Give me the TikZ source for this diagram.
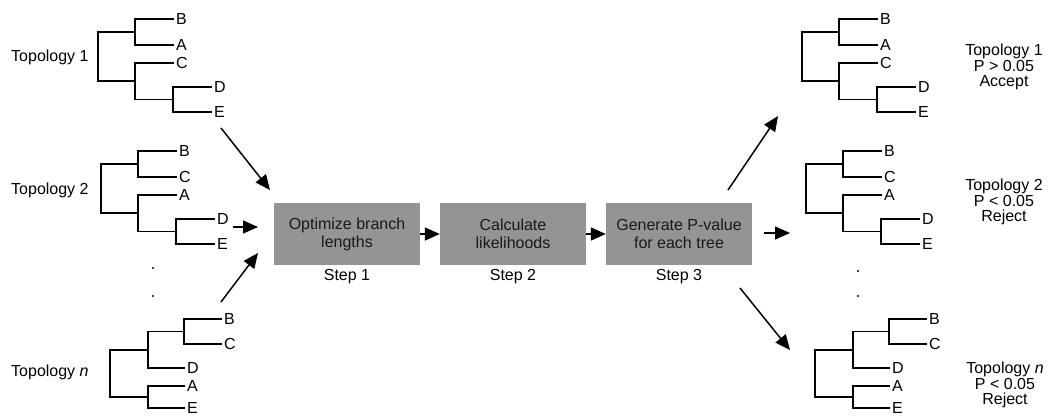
\documentclass[tikz,border=0pt]{standalone}
\usepackage{fontspec}
\setmainfont{Liberation Sans}
\usetikzlibrary{arrows.meta}
\newcommand\labfont{\fontsize{16}{18}\selectfont}
\newcommand\tightfont{\fontsize{16}{15.5}\selectfont}
% five-leaf tree ((1,2),(3,(4,5))); #1 name prefix, #2-#6 leaf labels from top
\newcommand\fivetree[6]{%
  \draw[branch] (37,32) -| (0,81.25) -- (37,81.25);
  \draw[branch] (76,19) -| (37,45) -- (76,45);
  \draw[branch] (76,63) -| (37,99.5) -- (75,99.5);
  \draw[branch] (114,87) -| (75,112) -- (114,112);
  \node[leaf] (#1a) at (78,19) {#2};
  \node[leaf] (#1b) at (78,45) {#3};
  \node[leaf] (#1c) at (78,63) {#4};
  \node[leaf] (#1d) at (116,87) {#5};
  \node[leaf] (#1e) at (116,112) {#6};
}
% five-leaf tree (((B,C),D),(A,E)); #1 name prefix
\newcommand\ntree[1]{%
  \draw[branch] (38,349.75) -| (0,397) -- (38,397);
  \draw[branch] (74,331.5) -| (38,368) -- (75,368);
  \draw[branch] (112,319) -| (74,344) -- (112,344);
  \draw[branch] (75,386) -| (38,408) -- (75,408);
  \node[leaf] (#1a) at (114,319) {B};
  \node[leaf] (#1b) at (114,344) {C};
  \node[leaf] (#1c) at (77,368) {D};
  \node[leaf] (#1d) at (77,386) {A};
  \node[leaf] (#1e) at (77,408) {E};
}
\begin{document}
\begin{tikzpicture}[x=1pt,y=-1pt,
  branch/.style={line width=1.6pt},
  leaf/.style={anchor=west, inner sep=0pt, font=\labfont},
  toplab/.style={anchor=west, inner sep=0pt, font=\labfont},
  result/.style={align=center, inner sep=0pt, font=\tightfont},
  stepbox/.style={fill=black!42, minimum width=146pt, minimum height=62pt,
    inner sep=0pt, align=center, font=\labfont, text=black!90},
  steplab/.style={inner sep=0pt, font=\labfont},
  arr/.style={line width=1.5pt, -{Triangle[length=15pt,width=13pt]}},
  dot/.style={fill=black}
]
\useasboundingbox (0,0) rectangle (1053,416);

% candidate topologies
\node[toplab] (t1) at (11,57) {Topology 1};
\node[toplab] (t2) at (11,190) {Topology 2};
\node[toplab] (tn) at (11,372) {Topology \textit{n}};
\begin{scope}[shift={(98,0)}]\fivetree{la}{B}{A}{C}{D}{E}\end{scope}
\begin{scope}[shift={(101,132)}]\fivetree{lb}{B}{C}{A}{D}{E}\end{scope}
\begin{scope}[shift={(110,0)}]\ntree{ln}\end{scope}
\fill[dot] (153,268) circle (1.2pt);
\fill[dot] (153,296) circle (1.2pt);

% procedure
\node[stepbox] (s1) at (347,234) {Optimize branch\\lengths};
\node[stepbox] (s2) at (513,234) {Calculate\\likelihoods};
\node[stepbox] (s3) at (679,234) {Generate P-value\\for each tree};
\node[steplab] (l1) at (347,277) {Step 1};
\node[steplab] (l2) at (513,277) {Step 2};
\node[steplab] (l3) at (679,277) {Step 3};
\draw[arr] (s1.east) -- (s2.west);
\draw[arr] (s2.east) -- (s3.west);

% inputs
\coordinate (i1s) at (221,128); \coordinate (i1e) at (270,190);
\coordinate (i2s) at (233,227); \coordinate (i2e) at (258,227);
\coordinate (i3s) at (221,302); \coordinate (i3e) at (258,253);
\draw[arr] (i1s) -- (i1e);
\draw[arr] (i2s) -- (i2e);
\draw[arr] (i3s) -- (i3e);

% outputs
\coordinate (o1s) at (728,190); \coordinate (o1e) at (778,116);
\coordinate (o2s) at (764,233); \coordinate (o2e) at (790,233);
\coordinate (o3s) at (740,288); \coordinate (o3e) at (790,350);
\draw[arr] (o1s) -- (o1e);
\draw[arr] (o2s) -- (o2e);
\draw[arr] (o3s) -- (o3e);

% tested topologies
\begin{scope}[shift={(802,0)}]\fivetree{ra}{B}{A}{C}{D}{E}\end{scope}
\begin{scope}[shift={(806,132)}]\fivetree{rb}{B}{C}{A}{D}{E}\end{scope}
\begin{scope}[shift={(815,0)}]\ntree{rn}\end{scope}
\fill[dot] (858,271) circle (1.2pt);
\fill[dot] (858,296) circle (1.2pt);
\node[result] (r1) at (1004,67) {Topology 1\\P {>} 0.05\\Accept};
\node[result] (r2) at (1004,202) {Topology 2\\P {<} 0.05\\Reject};
\node[result] (rn) at (1005,385) {Topology \textit{n}\\P {<} 0.05\\Reject};
\end{tikzpicture}
\end{document}
